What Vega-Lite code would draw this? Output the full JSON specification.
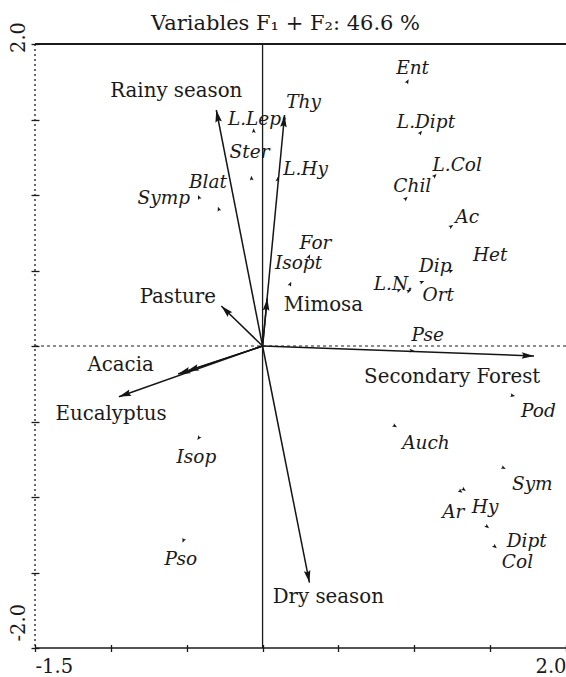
{
  "$schema": "https://vega.github.io/schema/vega-lite/v6.json",
  "width": 531,
  "height": 604,
  "autosize": "none",
  "padding": {"left": 35, "top": 44, "right": 0, "bottom": 29},
  "background": "white",
  "title": {
    "text": "Variables F₁ + F₂: 46.6 %",
    "font": "DejaVu Serif",
    "fontSize": 21,
    "fontWeight": "normal",
    "color": "#1a1a1a",
    "anchor": "middle",
    "dx": -15,
    "offset": -13
  },
  "config": {
    "view": {"stroke": null},
    "text": {"font": "DejaVu Serif", "color": "#1a1a1a"}
  },
  "datasets": {
    "vars": [
      {"name": "Rainy season", "x": -0.305, "y": 1.563, "lx": -0.569, "ly": 1.689},
      {"name": "", "x": 0.145, "y": 1.53, "lx": 0.145, "ly": 1.53},
      {"name": "Mimosa", "x": 0.031, "y": 0.316, "lx": 0.401, "ly": 0.272},
      {"name": "Pasture", "x": -0.272, "y": 0.265, "lx": -0.559, "ly": 0.325},
      {"name": "Acacia", "x": -0.557, "y": -0.185, "lx": -0.936, "ly": -0.126},
      {"name": "", "x": -0.5, "y": -0.168, "lx": -0.5, "ly": -0.168},
      {"name": "Eucalyptus", "x": -0.947, "y": -0.336, "lx": -0.999, "ly": -0.45},
      {"name": "Secondary Forest", "x": 1.789, "y": -0.066, "lx": 1.25, "ly": -0.202},
      {"name": "Dry season", "x": 0.309, "y": -1.567, "lx": 0.433, "ly": -1.659}
    ],
    "taxa": [
      {"name": "Ent", "x": 0.963, "y": 1.766, "lx": 0.989, "ly": 1.839},
      {"name": "L.Dipt", "x": 1.051, "y": 1.426, "lx": 1.077, "ly": 1.485},
      {"name": "L.Col", "x": 1.147, "y": 1.139, "lx": 1.283, "ly": 1.199},
      {"name": "Chil", "x": 0.956, "y": 0.989, "lx": 0.987, "ly": 1.06},
      {"name": "Ac", "x": 1.257, "y": 0.801, "lx": 1.349, "ly": 0.856},
      {"name": "Het", "x": 1.257, "y": 0.503, "lx": 1.5, "ly": 0.603},
      {"name": "Dip", "x": 1.066, "y": 0.43, "lx": 1.138, "ly": 0.53},
      {"name": "L.N.", "x": 0.914, "y": 0.377, "lx": 0.862, "ly": 0.411},
      {"name": "Ort", "x": 0.98, "y": 0.371, "lx": 1.158, "ly": 0.338},
      {"name": "L.Lep", "x": -0.059, "y": 1.442, "lx": -0.053, "ly": 1.501},
      {"name": "Ster", "x": -0.074, "y": 1.128, "lx": -0.086, "ly": 1.287},
      {"name": "Blat", "x": -0.294, "y": 0.923, "lx": -0.36, "ly": 1.088},
      {"name": "Symp", "x": -0.426, "y": 1.0, "lx": -0.651, "ly": 0.98},
      {"name": "L.Hy", "x": 0.101, "y": 1.121, "lx": 0.283, "ly": 1.172},
      {"name": "Thy", "x": 0.145, "y": 1.53, "lx": 0.27, "ly": 1.616},
      {"name": "For", "x": 0.314, "y": 0.607, "lx": 0.349, "ly": 0.684},
      {"name": "Isopt", "x": 0.189, "y": 0.426, "lx": 0.237, "ly": 0.55},
      {"name": "Pse", "x": 1.0, "y": -0.031, "lx": 1.088, "ly": 0.073},
      {"name": "Pod", "x": 1.664, "y": -0.331, "lx": 1.818, "ly": -0.428},
      {"name": "Auch", "x": 0.886, "y": -0.538, "lx": 1.077, "ly": -0.644},
      {"name": "Sym", "x": 1.603, "y": -0.815, "lx": 1.778, "ly": -0.914},
      {"name": "Ar", "x": 1.318, "y": -0.972, "lx": 1.257, "ly": -1.097},
      {"name": "Hy", "x": 1.34, "y": -0.96, "lx": 1.467, "ly": -1.064},
      {"name": "Dipt", "x": 1.493, "y": -1.207, "lx": 1.741, "ly": -1.289},
      {"name": "Col", "x": 1.544, "y": -1.34, "lx": 1.68, "ly": -1.428},
      {"name": "Isop", "x": -0.43, "y": -0.623, "lx": -0.436, "ly": -0.733},
      {"name": "Pso", "x": -0.528, "y": -1.303, "lx": -0.539, "ly": -1.413}
    ],
    "one": [{}]
  },
  "layer": [
    {
      "data": {"name": "vars"},
      "mark": {"type": "rule", "stroke": "#151515", "strokeWidth": 1.5},
      "encoding": {
        "x": {
          "field": "x", "type": "quantitative",
          "scale": {"domain": [-1.5, 2], "nice": false, "zero": false},
          "axis": {
            "title": null, "domain": false, "grid": false,
            "values": [-1.5, -1, -0.5, 0, 0.5, 1, 1.5, 2],
            "offset": -3.5, "tickSize": 7, "tickWidth": 1.3, "tickColor": "#1a1a1a",
            "labelExpr": "datum.value == -1.5 ? '-1.5' : (datum.value == 2 ? '2.0' : '')",
            "labelFlush": true, "labelOverlap": false,
            "labelFont": "DejaVu Serif", "labelFontSize": 19.5, "labelColor": "#1a1a1a",
            "labelPadding": 6
          }
        },
        "y": {
          "field": "y", "type": "quantitative",
          "scale": {"domain": [-2, 2], "nice": false, "zero": false},
          "axis": {
            "title": null, "domain": false, "grid": false,
            "values": [-2, -1.5, -1, -0.5, 0, 0.5, 1, 1.5, 2],
            "offset": -4, "tickSize": 8, "tickWidth": 1.3, "tickColor": "#1a1a1a",
            "labelExpr": "datum.value == 2 ? '2.0' : (datum.value == -2 ? '-2.0' : '')",
            "labelAngle": -90, "labelFlush": false, "labelOverlap": false,
            "labelBaseline": "bottom",
            "labelAlign": {"condition": {"test": "datum.value > 0", "value": "center"}, "value": "left"},
            "labelOffset": -7,
            "labelFont": "DejaVu Serif", "labelFontSize": 19.5, "labelColor": "#1a1a1a",
            "labelPadding": 3
          }
        },
        "x2": {"datum": 0},
        "y2": {"datum": 0}
      }
    },
    {
      "data": {"name": "one"},
      "mark": {"type": "rule", "stroke": "#1a1a1a", "strokeWidth": 1.2, "strokeDash": [3, 3]},
      "encoding": {
        "y": {"datum": 0, "type": "quantitative"}
      }
    },
    {
      "data": {"name": "one"},
      "mark": {"type": "rule", "stroke": "#1a1a1a", "strokeWidth": 1.3},
      "encoding": {
        "x": {"datum": 0, "type": "quantitative"}
      }
    },
    {
      "data": {"name": "one"},
      "mark": {"type": "rule", "stroke": "#1a1a1a", "strokeWidth": 1.8},
      "encoding": {
        "y": {"datum": 2, "type": "quantitative"}
      }
    },
    {
      "data": {"name": "one"},
      "mark": {"type": "rule", "stroke": "#1a1a1a", "strokeWidth": 1.5},
      "encoding": {
        "y": {"datum": -2, "type": "quantitative"}
      }
    },
    {
      "data": {"name": "one"},
      "mark": {"type": "rule", "stroke": "#1a1a1a", "strokeWidth": 1.3, "strokeDash": [2, 3]},
      "encoding": {
        "x": {"datum": -1.5, "type": "quantitative"}
      }
    },
    {
      "data": {"name": "vars"},
      "mark": {
        "type": "point", "filled": true, "opacity": 1, "color": "#151515", "size": 600,
        "shape": "M0,0L0.27,1L0,0.85L-0.27,1Z",
        "angle": {"expr": "atan2(datum.x, datum.y) * 180 / PI"}
      },
      "encoding": {
        "x": {"field": "x", "type": "quantitative"},
        "y": {"field": "y", "type": "quantitative"}
      }
    },
    {
      "data": {"name": "vars"},
      "mark": {"type": "text", "fontSize": 19.8, "align": "center", "baseline": "middle"},
      "encoding": {
        "x": {"field": "lx", "type": "quantitative"},
        "y": {"field": "ly", "type": "quantitative"},
        "text": {"field": "name"}
      }
    },
    {
      "data": {"name": "taxa"},
      "mark": {
        "type": "point", "filled": true, "opacity": 1, "color": "#151515", "size": 90,
        "shape": "M0,0L0.4,1L0,0.8L-0.4,1Z",
        "angle": {"expr": "atan2(datum.x, datum.y) * 180 / PI"}
      },
      "encoding": {
        "x": {"field": "x", "type": "quantitative"},
        "y": {"field": "y", "type": "quantitative"}
      }
    },
    {
      "data": {"name": "taxa"},
      "mark": {"type": "text", "fontSize": 18.5, "fontStyle": "italic", "align": "center", "baseline": "middle"},
      "encoding": {
        "x": {"field": "lx", "type": "quantitative"},
        "y": {"field": "ly", "type": "quantitative"},
        "text": {"field": "name"}
      }
    }
  ]
}
